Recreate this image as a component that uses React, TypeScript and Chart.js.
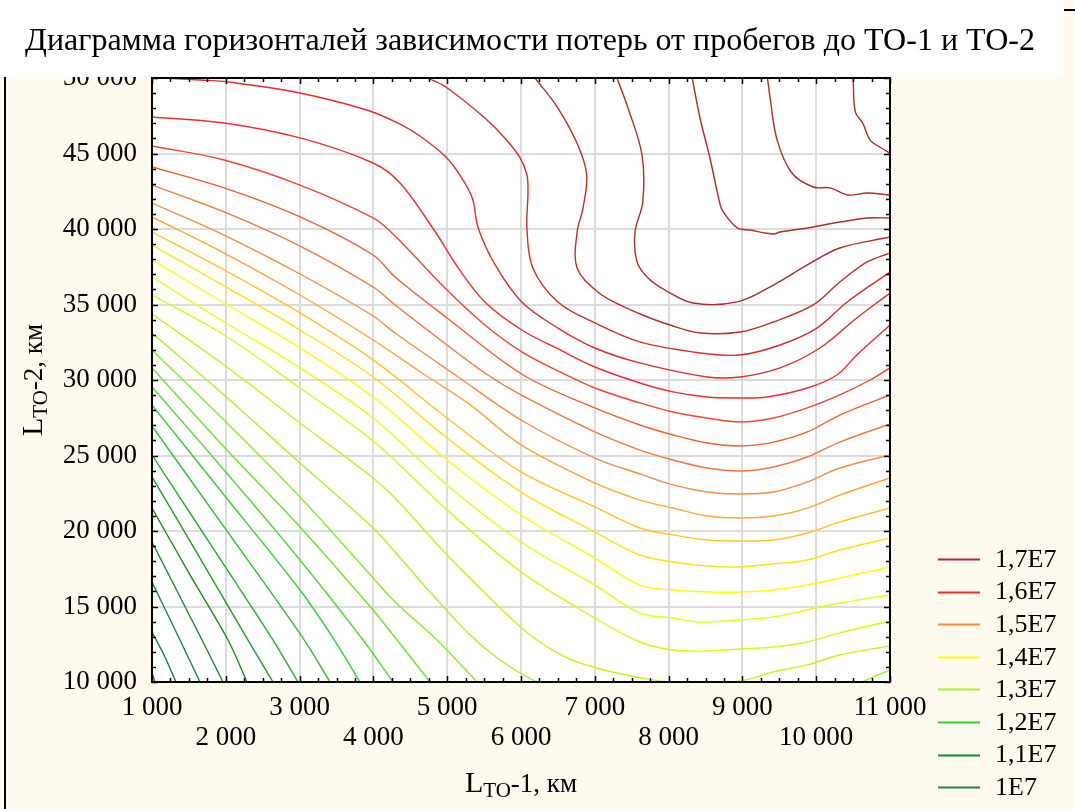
import React, { useEffect, useRef } from 'react';
import { Chart, registerables } from 'chart.js';
Chart.register(...registerables);

// ---------------- DATA ----------------
const titleText = 'Диаграмма горизонталей зависимости потерь от пробегов до ТО-1 и ТО-2';
const xTickValues = [1000, 2000, 3000, 4000, 5000, 6000, 7000, 8000, 9000, 10000, 11000];
const yTickValues = [10000, 15000, 20000, 25000, 30000, 35000, 40000, 45000, 50000];
const legendLabels = ['1,7E7', '1,6E7', '1,5E7', '1,4E7', '1,3E7', '1,2E7', '1,1E7', '1E7'];
const legendValues = [17000000, 16000000, 15000000, 14000000, 13000000, 12000000, 11000000, 10000000];
const legendColors = ['#B22A2A', '#F52C2C', '#FF8A3D', '#FFFF00', '#A8F522', '#2DD62D', '#138F22', '#2F7A55'];

const contourLevels = [
  10000000, 10250000, 10500000, 10750000, 11000000, 11250000, 11500000, 11750000,
  12000000, 12250000, 12500000, 12750000, 13000000, 13250000, 13500000, 13750000,
  14000000, 14250000, 14500000, 14750000, 15000000, 15250000, 15500000, 15750000,
  16000000, 16250000, 16500000, 16750000, 17000000, 17250000, 17500000, 17750000,
];

// contour lines: [L_TO-1 km, L_TO-2 km]
const lvl00 = [[1000, 10600], [1040, 10000]];
const lvl01 = [[1000, 13310], [1163, 11790], [1325, 10000]];
const lvl02 = [[1000, 16620], [1379, 12780], [1650, 10000]];
const lvl03 = [[1000, 19270], [1678, 12780], [1962, 10000]];
const lvl04 = [[1000, 21520], [1515, 17090], [2030, 12780], [2287, 10000]];
const lvl05 = [[1000, 23580], [1650, 18210], [2301, 12780], [2640, 10000]];
const lvl06 = [[1000, 25030], [1976, 17750], [2640, 12780], [2978, 10000]];
const lvl07 = [[1000, 26950], [1976, 20270], [3046, 12910], [3412, 10000]];
const lvl08 = [[1000, 28340], [1976, 22380], [3005, 16090], [3453, 12910], [3818, 10000]];
const lvl09 = [[1000, 29540], [1976, 24040], [3005, 18080], [3859, 12780], [4266, 10000]];
const lvl10 = [[1000, 30800], [1976, 25560], [3005, 20270], [3995, 14770], [4320, 12780], [4767, 10000]];
const lvl11 = [[1000, 31990], [1976, 27350], [3005, 22250], [3995, 16890], [4293, 15300], [4862, 12780], [5404, 10000]];
const lvl12 = [[1000, 33110], [1976, 29010], [3005, 24500], [3995, 20200], [4293, 18610], [4767, 15960], [5309, 13110], [5715, 11460], [6163, 10130], [6528, 9470]];
const lvl12b = [[10460, 9600], [10620, 10000], [11000, 10800]];
const lvl13 = [[1000, 34370], [1976, 30990], [3005, 27150], [3995, 23510], [4293, 22190], [4997, 18410], [5648, 15230], [6122, 13110], [6596, 11660], [7070, 10860], [7710, 10200], [8290, 9870], [8970, 10070], [9420, 10660], [9880, 11130], [10320, 11790], [11000, 12380]];
const lvl14 = [[1000, 35630], [1976, 32980], [3005, 29470], [3995, 25960], [4997, 21390], [6000, 17290], [7000, 14240], [7610, 12650], [8060, 12120], [8520, 12050], [8970, 12190], [9420, 12320], [9880, 12650], [10320, 13250], [11000, 14040]];
const lvl15 = [[1000, 36820], [1976, 33840], [3005, 30800], [3995, 27480], [4997, 23050], [6000, 19270], [7000, 16420], [7610, 14570], [8060, 14240], [8430, 13970], [8970, 14110], [9420, 14310], [9880, 14770], [10320, 15230], [11000, 15760]];
const lvl16 = [[1000, 37950], [1976, 35100], [3005, 32120], [3995, 28870], [4997, 24700], [6000, 21060], [7000, 18210], [7610, 16420], [8060, 16090], [8520, 15960], [8970, 15960], [9420, 16090], [9880, 16420], [10320, 16890], [11000, 17620]];
const lvl17 = [[1000, 38940], [1976, 36230], [3005, 33310], [3995, 30200], [4997, 26160], [6000, 22580], [7000, 19930], [7610, 18410], [8060, 17950], [8520, 17680], [8930, 17620], [9420, 17820], [9880, 18080], [10320, 18740], [11000, 19540]];
const lvl18 = [[1000, 39800], [1976, 37290], [3005, 34440], [3995, 31330], [4997, 27480], [6000, 23910], [7000, 21590], [7610, 20200], [8060, 19740], [8520, 19400], [8970, 19340], [9420, 19400], [9880, 19870], [10320, 20600], [11000, 21520]];
const lvl19 = [[1000, 40800], [1976, 38410], [3005, 35630], [3995, 32650], [4700, 30330], [5300, 28400], [6000, 25700], [7000, 23180], [7610, 22050], [8060, 21520], [8520, 20990], [8970, 20860], [9420, 20990], [9880, 21520], [10320, 22380], [11000, 23510]];
const lvl20 = [[1000, 41720], [1976, 39600], [3005, 37020], [3995, 34240], [4293, 33110], [5110, 30330], [6000, 27350], [7000, 24830], [7610, 23780], [8060, 23050], [8520, 22580], [8930, 22450], [9420, 22580], [9880, 23250], [10320, 24170], [11000, 25030]];
const lvl21 = [[1000, 42910], [1976, 41130], [3005, 38870], [3995, 36160], [4293, 34970], [4997, 32320], [5550, 30330], [6000, 29010], [7000, 26560], [7610, 25360], [8060, 24700], [8520, 24170], [8970, 23970], [9420, 24240], [9880, 24900], [10320, 25890], [11000, 27090]];
const lvl22 = [[1000, 44110], [1976, 42720], [3005, 40800], [3995, 38280], [4293, 36820], [4997, 34110], [6030, 30330], [7000, 28150], [7610, 27020], [8060, 26360], [8520, 25830], [8970, 25630], [9420, 25890], [9880, 26560], [10320, 27680], [11000, 29010]];
const lvl23 = [[1000, 45500], [1976, 44570], [3005, 42910], [3995, 40730], [4293, 39540], [4970, 36090], [5510, 33640], [6010, 31860], [6530, 30530], [7000, 29470], [7610, 28480], [8060, 27880], [8520, 27480], [8970, 27220], [9420, 27480], [9880, 28150], [10320, 29010], [10730, 30000], [11000, 30800]];
const lvl24 = [[1000, 47420], [1976, 47020], [3005, 46030], [3995, 44370], [4360, 43050], [4840, 39800], [5150, 37420], [5510, 35170], [6010, 33310], [6530, 31990], [7000, 30860], [7610, 29800], [8060, 29210], [8520, 28870], [8970, 28810], [9330, 28870], [9880, 29470], [10280, 30330], [10550, 31660], [11000, 33640]];
const lvl25 = [[1170, 50000], [1650, 49870], [2020, 49740], [3000, 49010], [3910, 47880], [4360, 46950], [4630, 46160], [4970, 44830], [5170, 43580], [5340, 42050], [5420, 40070], [5650, 37620], [6010, 35170], [6500, 33440], [7000, 32120], [7610, 31130], [8520, 30200], [8970, 30200], [9510, 30800], [10050, 32120], [10550, 34110], [11000, 35760]];
const lvl26 = [[4740, 50000], [5000, 49340], [5510, 47350], [5780, 46030], [5990, 44700], [6080, 43580], [6095, 42450], [6080, 40070], [6160, 37420], [6500, 35170], [7000, 33780], [7610, 32520], [8430, 31790], [8970, 31660], [9510, 32320], [10010, 33440], [10420, 35170], [11000, 37150]];
const lvl27 = [[6190, 50000], [6500, 48010], [6770, 45560], [6890, 43580], [6840, 41390], [6760, 39800], [6760, 37420], [7040, 35830], [7340, 34970], [7680, 34240], [8020, 33640], [8430, 33110], [8970, 33180], [9420, 33840], [9960, 34970], [10320, 36490], [10690, 37820], [11000, 38410]];
const lvl28 = [[7300, 50000], [7450, 48010], [7640, 44900], [7650, 41790], [7545, 39800], [7572, 37820], [7721, 36760], [7951, 35960], [8331, 35100], [8930, 35170], [9420, 36290], [9880, 37620], [10320, 38740], [11000, 39470]];
const lvl29 = [[8320, 50000], [8425, 47350], [8560, 44700], [8700, 41590], [8740, 41130], [8930, 40070], [9100, 39930], [9420, 39670], [9510, 39800], [9880, 40070], [10320, 40460], [10690, 40730], [11000, 40730]];
const lvl30 = [[9340, 50000], [9374, 48740], [9470, 45900], [9670, 43710], [9960, 42780], [10190, 42720], [10430, 42250], [10690, 42380], [11000, 42250]];
const lvl31 = [[10500, 50000], [10530, 47750], [10630, 47020], [10730, 45890], [10860, 45430], [11000, 45030]];

const contourLines: [number, number[][]][] = [
  [0, lvl00], [1, lvl01], [2, lvl02], [3, lvl03], [4, lvl04], [5, lvl05], [6, lvl06], [7, lvl07],
  [8, lvl08], [9, lvl09], [10, lvl10], [11, lvl11], [12, lvl12], [12, lvl12b], [13, lvl13], [14, lvl14],
  [15, lvl15], [16, lvl16], [17, lvl17], [18, lvl18], [19, lvl19], [20, lvl20], [21, lvl21], [22, lvl22],
  [23, lvl23], [24, lvl24], [25, lvl25], [26, lvl26], [27, lvl27], [28, lvl28], [29, lvl29], [30, lvl30], [31, lvl31],
];

// ---------------- STYLE ----------------
const W = 1075;
const H = 809;
const CREAM = '#FFF9EE';
const SERIF = '"Liberation Serif", "Times New Roman", serif';

function hexToRgb(h: string) {
  const n = parseInt(h.slice(1), 16);
  return [(n >> 16) & 255, (n >> 8) & 255, n & 255];
}
function colorForLevel(v: number) {
  const vals = [...legendValues].reverse();
  const cols = [...legendColors].reverse().map(hexToRgb);
  if (v <= vals[0]) return `rgb(${cols[0].join(',')})`;
  if (v >= vals[vals.length - 1]) return `rgb(${cols[cols.length - 1].join(',')})`;
  for (let i = 0; i < vals.length - 1; i++) {
    if (v >= vals[i] && v <= vals[i + 1]) {
      const t = (v - vals[i]) / (vals[i + 1] - vals[i]);
      const c = cols[i].map((a, k) => Math.round(a + (cols[i + 1][k] - a) * t));
      return `rgb(${c.join(',')})`;
    }
  }
  return '#000';
}

function fmt(v: number) {
  return `${Math.round(v / 1000)} 000`;
}

function drawSubTitle(ctx: CanvasRenderingContext2D, cx: number, base: number, main: string, sub: string, rest: string) {
  const fMain = `30px ${SERIF}`;
  const fSub = `21px ${SERIF}`;
  const fRest = `27px ${SERIF}`;
  ctx.font = fMain; const w1 = ctx.measureText(main).width;
  ctx.font = fSub; const w2 = ctx.measureText(sub).width;
  ctx.font = fRest; const w3 = ctx.measureText(rest).width;
  let x = cx - (w1 + w2 + w3) / 2;
  ctx.textAlign = 'left';
  ctx.textBaseline = 'alphabetic';
  ctx.font = fMain; ctx.fillText(main, x, base); x += w1;
  ctx.font = fSub; ctx.fillText(sub, x, base + 5); x += w2;
  ctx.font = fRest; ctx.fillText(rest, x, base);
}

const decorPlugin = {
  id: 'decor',
  beforeDraw(chart: any) {
    const { ctx, chartArea: a } = chart;
    ctx.save();
    ctx.fillStyle = CREAM;
    ctx.fillRect(0, 0, W, H);
    ctx.strokeStyle = '#000';
    ctx.lineWidth = 2;
    ctx.beginPath();
    ctx.moveTo(5, H + 5);
    ctx.lineTo(5, 10);
    ctx.lineTo(W + 5, 10);
    ctx.stroke();
    ctx.fillStyle = '#FFFFFF';
    ctx.fillRect(a.left, a.top, a.right - a.left, a.bottom - a.top);
    ctx.restore();
  },
  afterDraw(chart: any) {
    const { ctx, chartArea: a } = chart;
    const xs = chart.scales.x;
    const ys = chart.scales.y;
    ctx.save();
    // ticks (inward)
    ctx.strokeStyle = '#000';
    ctx.lineWidth = 1.5;
    ctx.beginPath();
    for (let v = 1000; v <= 11000; v += 250) {
      const p = Math.round(xs.getPixelForValue(v)) + 0.5;
      const len = v % 1000 === 0 ? 6 : 4;
      ctx.moveTo(p, a.bottom); ctx.lineTo(p, a.bottom - len);
      ctx.moveTo(p, a.top); ctx.lineTo(p, a.top + len);
    }
    for (let v = 10000; v <= 50000; v += 1000) {
      const p = Math.round(ys.getPixelForValue(v)) + 0.5;
      const len = v % 5000 === 0 ? 6 : 4;
      ctx.moveTo(a.left, p); ctx.lineTo(a.left + len, p);
      ctx.moveTo(a.right, p); ctx.lineTo(a.right - len, p);
    }
    ctx.stroke();
    // plot frame
    ctx.lineWidth = 2;
    ctx.strokeRect(a.left, a.top, a.right - a.left, a.bottom - a.top);

    // title box
    ctx.fillStyle = '#FFFFFF';
    ctx.fillRect(0, 0, 1064, 77);
    ctx.fillStyle = '#000';
    ctx.font = `32px ${SERIF}`;
    ctx.textAlign = 'center';
    ctx.textBaseline = 'alphabetic';
    ctx.fillText(titleText, 530, 50);

    // axis titles
    ctx.fillStyle = '#000';
    drawSubTitle(ctx, (a.left + a.right) / 2, 792, 'L', 'TO', '-1, км');
    ctx.save();
    ctx.translate(42, (a.top + a.bottom) / 2);
    ctx.rotate(-Math.PI / 2);
    drawSubTitle(ctx, 0, 0, 'L', 'TO', '-2, км');
    ctx.restore();

    // legend
    legendLabels.forEach((lab, i) => {
      const y = 559 + i * 32.6;
      ctx.strokeStyle = legendColors[i];
      ctx.lineWidth = 2;
      ctx.beginPath();
      ctx.moveTo(938, Math.round(y) + 0.5);
      ctx.lineTo(980, Math.round(y) + 0.5);
      ctx.stroke();
      ctx.fillStyle = '#000';
      ctx.font = `26px ${SERIF}`;
      ctx.textAlign = 'left';
      ctx.textBaseline = 'middle';
      ctx.fillText(lab, 995, y + 1);
    });
    ctx.restore();
  },
};

export default function App() {
  const ref = useRef<HTMLCanvasElement | null>(null);
  useEffect(() => {
    document.body.style.margin = '0';
    const canvas = ref.current;
    if (!canvas) return;
    const datasets = contourLines.map(([li, pts]) => ({
      data: pts.map(([x, y]) => ({ x, y })),
      showLine: true,
      borderColor: colorForLevel(contourLevels[li]),
      borderWidth: 1.4,
      pointRadius: 0,
      pointHoverRadius: 0,
      tension: 0.35,
      fill: false,
    }));
    const chart = new Chart(canvas, {
      type: 'scatter',
      data: { datasets },
      options: {
        responsive: false,
        animation: false,
        devicePixelRatio: 1,
        layout: { padding: { left: 0, right: 185, top: 78, bottom: 0 } },
        plugins: {
          legend: { display: false },
          title: { display: false },
          tooltip: { enabled: false },
        },
        scales: {
          x: {
            type: 'linear',
            min: 1000,
            max: 11000,
            afterFit: (s: any) => { s.height = 127; },
            afterBuildTicks: (s: any) => { s.ticks = xTickValues.map((value) => ({ value })); },
            ticks: {
              autoSkip: false,
              maxRotation: 0,
              minRotation: 0,
              padding: 11,
              color: '#000',
              font: { family: SERIF, size: 27, lineHeight: 1.11 },
              callback: (v: any) => {
                const n = Number(v);
                return (n / 1000) % 2 === 1 ? fmt(n) : ['', fmt(n)];
              },
            },
            grid: { color: '#DCDCDC', lineWidth: 2, drawTicks: false },
            border: { display: false },
          },
          y: {
            type: 'linear',
            min: 10000,
            max: 50000,
            afterFit: (s: any) => { s.width = 152; },
            afterBuildTicks: (s: any) => { s.ticks = yTickValues.map((value) => ({ value })); },
            ticks: {
              padding: 15,
              color: '#000',
              font: { family: SERIF, size: 27 },
              callback: (v: any) => fmt(Number(v)),
            },
            grid: { color: '#DCDCDC', lineWidth: 2, drawTicks: false },
            border: { display: false },
          },
        },
      },
      plugins: [decorPlugin],
    } as any);
    return () => chart.destroy();
  }, []);
  return <canvas ref={ref} width={W} height={H} style={{ display: 'block' }} />;
}
